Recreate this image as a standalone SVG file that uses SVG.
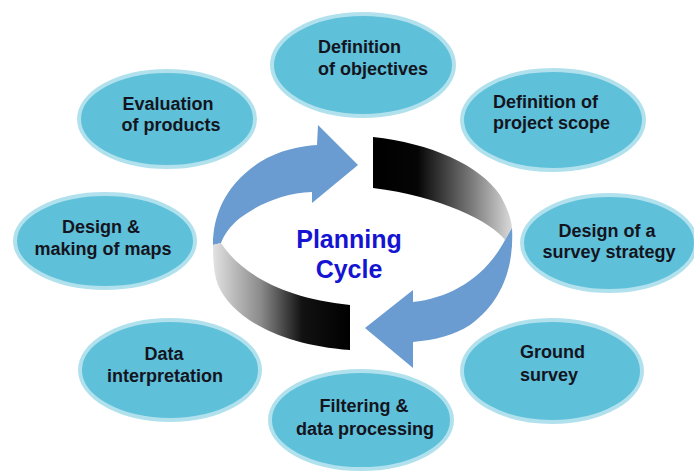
<svg xmlns="http://www.w3.org/2000/svg" width="694" height="472" viewBox="0 0 694 472">
<style>
.node ellipse{fill:#5ec0d9;stroke:#b2e1ee;stroke-width:4}
.node text{font-family:"Liberation Sans",Arial,sans-serif;font-weight:bold;font-size:18px;fill:#14141e}
.mid{text-anchor:middle}
.blue{fill:#6a9bd1}
.title{font-family:"Liberation Sans",Arial,sans-serif;font-weight:bold;font-size:25px;fill:#1414d2;text-anchor:middle}
</style>
<defs>
<linearGradient id="gL" gradientUnits="userSpaceOnUse" x1="213" y1="0" x2="350" y2="0">
<stop offset="0" stop-color="#e2e2e2"/><stop offset="0.35" stop-color="#8a8a8a"/><stop offset="0.65" stop-color="#121212"/><stop offset="1" stop-color="#000"/>
</linearGradient>
<linearGradient id="gR" gradientUnits="userSpaceOnUse" x1="373" y1="0" x2="512" y2="0">
<stop offset="0" stop-color="#000"/><stop offset="0.32" stop-color="#050505"/><stop offset="0.7" stop-color="#777"/><stop offset="1" stop-color="#dadada"/>
</linearGradient>
</defs>
<rect width="694" height="472" fill="#fff"/>
<g id="cycle">
<path class="blue" d="M213,245 C213,215 225,185 260,162 C280,150 300,146 317,145 L318,125 L358,165 L312,203 L312,192 C285,193 260,203 240,218 C230,226 224,235 221,243 Z"/>
<path fill="url(#gL)" d="M213,245 L221,243 C240,272 280,298 350,305 L350,350 C280,345 232,318 218,285 C214,275 213,260 213,245 Z"/>
<path fill="url(#gR)" d="M373,137 C430,143 480,165 500,195 C507,207 511,218 512,228 L505,240 C492,222 440,196 373,188 Z"/>
<path class="blue" d="M512,228 C514,262 505,300 470,325 C455,335 435,340 413,342 L413,368 L365,328 L413,290 L413,302 C450,298 485,278 505,240 Z"/>
<text class="title" x="349" y="248">Planning</text>
<text class="title" x="349" y="278">Cycle</text>
</g>
<g id="n1" class="node"><ellipse cx="363" cy="65" rx="91" ry="51"/><text x="318" y="53">Definition</text><text x="318" y="75">of objectives</text></g>
<g id="n2" class="node"><ellipse cx="553" cy="120" rx="91" ry="50"/><text x="493" y="108">Definition of</text><text x="493" y="129">project scope</text></g>
<g id="n3" class="node"><ellipse cx="609" cy="243" rx="87" ry="48"/><text class="mid" x="607" y="237">Design of a</text><text class="mid" x="609" y="258">survey strategy</text></g>
<g id="n4" class="node"><ellipse cx="552" cy="371" rx="90" ry="51"/><text x="520" y="358">Ground</text><text x="520" y="381">survey</text></g>
<g id="n5" class="node"><ellipse cx="361" cy="420" rx="91" ry="49"/><text class="mid" x="364" y="412">Filtering &amp;</text><text class="mid" x="365" y="435">data processing</text></g>
<g id="n6" class="node"><ellipse cx="170" cy="370" rx="90" ry="50"/><text class="mid" x="164" y="360">Data</text><text class="mid" x="165" y="382">interpretation</text></g>
<g id="n7" class="node"><ellipse cx="105" cy="241" rx="90" ry="47"/><text class="mid" x="101" y="233">Design &amp;</text><text class="mid" x="103" y="255">making of maps</text></g>
<g id="n8" class="node"><ellipse cx="167" cy="119" rx="88" ry="48"/><text class="mid" x="168" y="110">Evaluation</text><text class="mid" x="171" y="131">of products</text></g>
</svg>
